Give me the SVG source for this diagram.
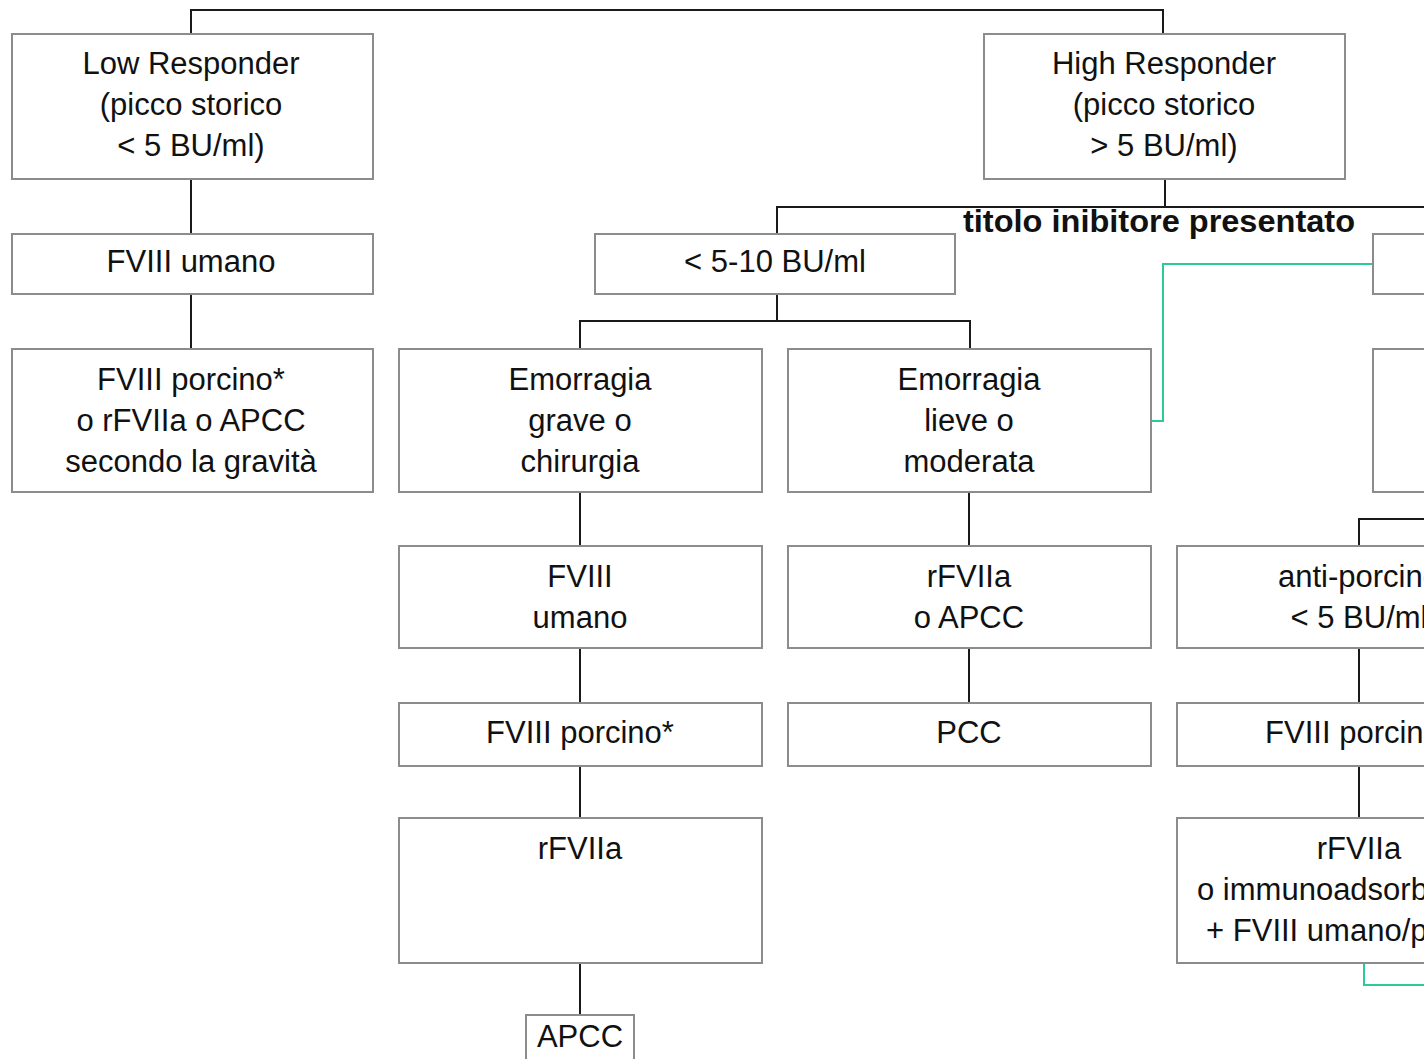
<svg xmlns="http://www.w3.org/2000/svg" width="1424" height="1059" viewBox="0 0 1424 1059">
<style>
.box{fill:#fff;stroke:#8c8c8c;stroke-width:2}
.ln{fill:none;stroke:#1a1a1a;stroke-width:2}
.gr{fill:none;stroke:#2ccb96;stroke-width:2}
text{font-family:"Liberation Sans",Arial,sans-serif;font-size:31px;fill:#111;text-anchor:middle}
.b{font-weight:bold;text-anchor:start}
</style>
<rect width="1424" height="1059" fill="#fff"/>
<g id="connectors">
<path class="ln" d="M191,34V10H1163V34"/>
<path class="ln" d="M191,179V234M191,294V349"/>
<path class="ln" d="M1165,179V207M777,234V207H1424"/>
<path class="ln" d="M777,294V321M580,349V321H970V349"/>
<path class="ln" d="M580,492V546M580,648V703M580,766V818M580,963V1015"/>
<path class="ln" d="M969,492V546M969,648V703"/>
<path class="ln" d="M1359,546V519H1424M1359,648V703M1359,766V818"/>
<path class="gr" d="M1373,264H1163V421H1152"/>
<path class="gr" d="M1364,963V985H1424"/>
</g>
<text class="b" x="963" y="232" textLength="392" lengthAdjust="spacingAndGlyphs">titolo inibitore presentato</text>
<g id="low"><rect class="box" x="12" y="34" width="361" height="145"/><text x="191" y="74">Low Responder</text><text x="191" y="115">(picco storico</text><text x="191" y="156">&lt; 5 BU/ml)</text></g>
<g id="high"><rect class="box" x="984" y="34" width="361" height="145"/><text x="1164" y="74">High Responder</text><text x="1164" y="115">(picco storico</text><text x="1164" y="156">&gt; 5 BU/ml)</text></g>
<g id="fviii-umano-l"><rect class="box" x="12" y="234" width="361" height="60"/><text x="191" y="272">FVIII umano</text></g>
<g id="porcino-l"><rect class="box" x="12" y="349" width="361" height="143"/><text x="191" y="390">FVIII porcino*</text><text x="191" y="431">o rFVIIa o APCC</text><text x="191" y="472">secondo la gravità</text></g>
<g id="lt510"><rect class="box" x="595" y="234" width="360" height="60"/><text x="775" y="272">&lt; 5-10 BU/ml</text></g>
<g id="gt510"><rect class="box" x="1373" y="234" width="360" height="60"/></g>
<g id="grave"><rect class="box" x="399" y="349" width="363" height="143"/><text x="580" y="390">Emorragia</text><text x="580" y="431">grave o</text><text x="580" y="472">chirurgia</text></g>
<g id="lieve"><rect class="box" x="788" y="349" width="363" height="143"/><text x="969" y="390">Emorragia</text><text x="969" y="431">lieve o</text><text x="969" y="472">moderata</text></g>
<g id="right2"><rect class="box" x="1373" y="349" width="360" height="143"/></g>
<g id="fviii-umano-m"><rect class="box" x="399" y="546" width="363" height="102"/><text x="580" y="587">FVIII</text><text x="580" y="628">umano</text></g>
<g id="rfviia-apcc"><rect class="box" x="788" y="546" width="363" height="102"/><text x="969" y="587">rFVIIa</text><text x="969" y="628">o APCC</text></g>
<g id="anti-porcino"><rect class="box" x="1177" y="546" width="364" height="102"/><text x="1359" y="587">anti-porcino</text><text x="1359" y="628">&lt; 5 BU/ml</text></g>
<g id="porcino-m"><rect class="box" x="399" y="703" width="363" height="63"/><text x="580" y="743">FVIII porcino*</text></g>
<g id="pcc"><rect class="box" x="788" y="703" width="363" height="63"/><text x="969" y="743">PCC</text></g>
<g id="porcino-r"><rect class="box" x="1177" y="703" width="364" height="63"/><text x="1359" y="743">FVIII porcino*</text></g>
<g id="rfviia-m"><rect class="box" x="399" y="818" width="363" height="145"/><text x="580" y="859">rFVIIa</text></g>
<g id="rfviia-r"><rect class="box" x="1177" y="818" width="364" height="145"/><text x="1359" y="859">rFVIIa</text><text x="1359" y="900">o immunoadsorbimento</text><text x="1359" y="941">+ FVIII umano/porcino</text></g>
<g id="apcc"><rect class="box" x="526" y="1015" width="108" height="60"/><text x="580" y="1047">APCC</text></g>
</svg>
